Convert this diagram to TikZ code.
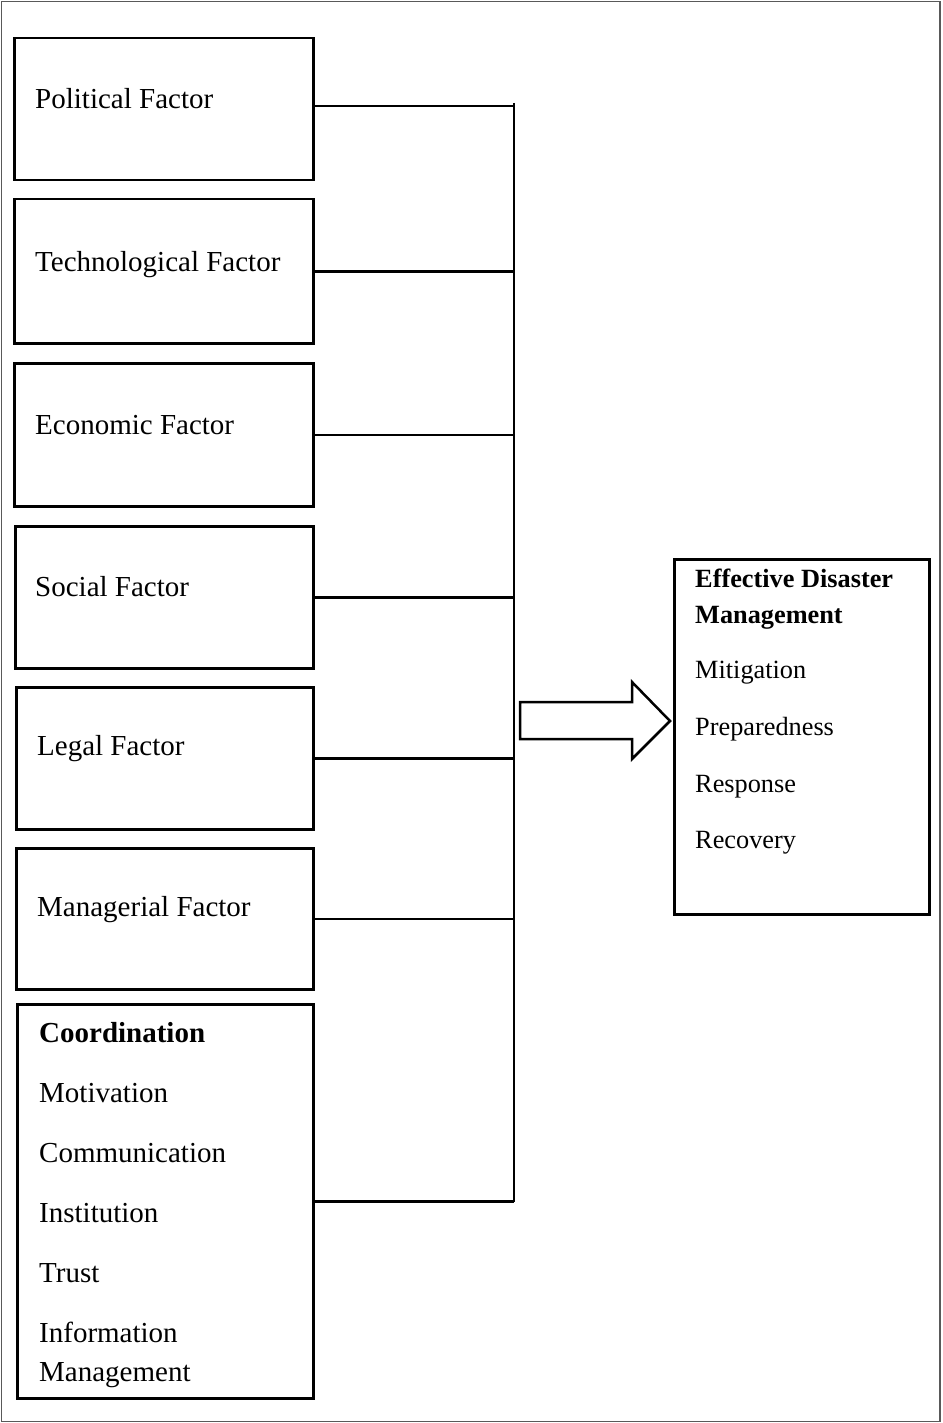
\documentclass[tikz,border=0pt]{standalone}
\usepackage{fontspec}
\setmainfont{Liberation Serif}
\begin{document}
\begin{tikzpicture}[x=1pt,y=-1pt,
  box/.style={draw,line width=2.5pt,rectangle,inner sep=0pt,anchor=north west},
  lbl/.style={anchor=base west,inner sep=0pt,font=\fontsize{29}{35}\selectfont},
  rlbl/.style={anchor=base west,inner sep=0pt,font=\fontsize{26.3}{32}\selectfont},
  conn/.style={line width=2.5pt}]
\useasboundingbox (0,0) rectangle (942,1423);
\draw[line width=1.5pt,black!65] (1.5,1.5) rectangle (940,1421.5);

% left boxes
\node[box,minimum width=299pt,minimum height=142pt] (b1) at (13,37) {};
\node[box,minimum width=299pt,minimum height=144pt] (b2) at (13,198) {};
\node[box,minimum width=299pt,minimum height=143pt] (b3) at (13,362) {};
\node[box,minimum width=298pt,minimum height=142pt] (b4) at (14,525) {};
\node[box,minimum width=297pt,minimum height=142pt] (b5) at (15,686) {};
\node[box,minimum width=297pt,minimum height=141pt] (b6) at (15,847) {};
\node[box,minimum width=296pt,minimum height=394pt] (b7) at (16,1003) {};

\node[lbl] (t1) at (35,109) {Political Factor};
\node[lbl] (t2) at (35,271) {Technological Factor};
\node[lbl] (t3) at (35,434) {Economic Factor};
\node[lbl] (t4) at (35,596) {Social Factor};
\node[lbl] (t5) at (37,755) {Legal Factor};
\node[lbl] (t6) at (37,916) {Managerial Factor};

\node[lbl] (c0) at (39,1042) {\textbf{Coordination}};
\node[lbl] (c1) at (39,1102) {Motivation};
\node[lbl] (c2) at (39,1162) {Communication};
\node[lbl] (c3) at (39,1222) {Institution};
\node[lbl] (c4) at (39,1282) {Trust};
\node[lbl] (c5) at (39,1342) {Information};
\node[lbl] (c6) at (39,1381) {Management};

% bus
\coordinate (bt) at (514,103);
\coordinate (bb) at (514,1202);
\draw[conn] (bt) -- (bb);
\draw[conn] ([yshift=3pt]b1.east) -- ([yshift=3pt]b1.east -| bt);
\foreach \b in {b2,b3,b4,b5,b6,b7}{
  \draw[conn] (\b.east) -- (\b.east -| bt);
}

% right box
\node[box,minimum width=255pt,minimum height=355pt] (r) at (673,558) {};
\node[rlbl] (r0) at (695,587) {\textbf{Effective Disaster}};
\node[rlbl] (r1) at (695,623) {\textbf{Management}};
\node[rlbl] (r2) at (695,678) {Mitigation};
\node[rlbl] (r3) at (695,735) {Preparedness};
\node[rlbl] (r4) at (695,792) {Response};
\node[rlbl] (r5) at (695,848) {Recovery};

% block arrow
\draw[line width=2.5pt,line join=miter] (520,702) -- (632,702) -- (632,682) -- (670,721)
  -- (632,759) -- (632,739) -- (520,739) -- cycle;
\end{tikzpicture}
\end{document}
